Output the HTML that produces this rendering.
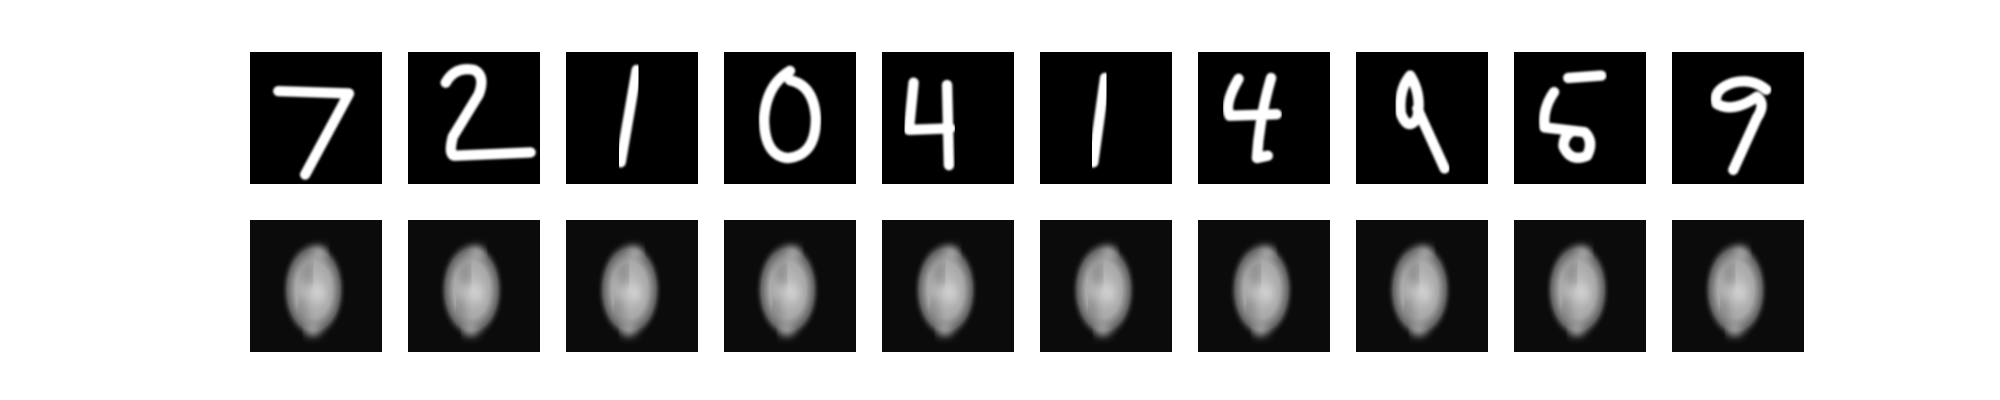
<!DOCTYPE html>
<html><head><meta charset="utf-8"><style>
html,body{margin:0;padding:0;background:#fff;width:2000px;height:400px;overflow:hidden}
</style></head><body>
<svg id="fig" width="2000" height="400" viewBox="0 0 2000 400" xmlns="http://www.w3.org/2000/svg">
<defs>
<filter id="blur" x="-20%" y="-20%" width="140%" height="140%"><feGaussianBlur stdDeviation="1.1"/></filter>
<filter id="soft" x="-10%" y="-10%" width="120%" height="120%"><feGaussianBlur stdDeviation="0.25"/></filter>
<radialGradient id="blob" cx="50%" cy="50%" r="50%">
<stop offset="0" stop-color="#c4c4c4"/><stop offset="0.55" stop-color="#a8a8a8"/><stop offset="0.8" stop-color="#606060"/><stop offset="1" stop-color="#0a0a0a" stop-opacity="0"/>
</radialGradient>
</defs>
</svg>
<script>
const labels = ['7','2','1','0','4','1','4','9','5','9'];
const paths = [
 'M6 8.3 L21 8.8 L11.7 26',
 'M8 6.5 Q10 3 14 3.8 Q16.5 5 15 9 L9.5 18 Q8.5 22 10 22 L26 21.3',
 'M15 3.8 L11.6 23.4',
 'M14 4 Q9 7 8.5 14 Q8.5 22 13.5 22.5 Q19.5 22 19.5 14 Q19 7 14 6',
 'M6.7 6.5 L5.7 16.5 L14.5 16.2 M13.8 7 L14.2 24',
 'M13.8 5.5 L11.3 23.4',
 'M8.6 5.7 Q5.5 11 6.7 13.5 L16.7 13.2 M15.5 5.5 Q13 14 12.5 22.5 L14.8 22',
 'M11.5 5 Q9 8 9.5 13 Q11 17 13 14 Q14 9 11.5 5 M13 12 L18.8 24.7',
 'M11.5 5.5 L18.5 5 M8.5 8.5 Q6 12 6.5 16 L15 17 Q17 19 15.5 22 Q12 23.5 10.5 20 Q10.5 18 12 17',
 'M20 8 Q17 5.5 13 6.5 Q8.5 8 9.5 11 Q13 13 18 9.5 Q20 11 18 14 L13 25'
];
const svgNS='http://www.w3.org/2000/svg';
const fig=document.getElementById('fig');
const S=132/28;
labels.forEach((d,i)=>{
  const x0=250+i*158;
  const g=document.createElementNS(svgNS,'g');
  
  
  g.setAttribute('transform','translate('+x0+',52) scale('+S+')');
  const r=document.createElementNS(svgNS,'rect');
  r.setAttribute('width','28');r.setAttribute('height','28');r.setAttribute('fill','#000');
  g.appendChild(r);
  const p=document.createElementNS(svgNS,'path');
  p.setAttribute('d',paths[i]);p.setAttribute('fill','none');p.setAttribute('stroke','#fff');
  p.setAttribute('stroke-width','2.2');p.setAttribute('stroke-linecap','round');p.setAttribute('stroke-linejoin','round');
  p.setAttribute('filter','url(#soft)');
  g.appendChild(p);
  fig.appendChild(g);
  const g2=document.createElementNS(svgNS,'g');
  
  
  g2.setAttribute('transform','translate('+x0+',220) scale('+S+')');
  const r2=document.createElementNS(svgNS,'rect');
  r2.setAttribute('width','28');r2.setAttribute('height','28');r2.setAttribute('fill','#0b0b0b');
  g2.appendChild(r2);
  const e=document.createElementNS(svgNS,'ellipse');
  e.setAttribute('cx','13.5');e.setAttribute('cy','14.8');e.setAttribute('rx','7');e.setAttribute('ry','10.8');
  e.setAttribute('fill','url(#blob)');
  g2.appendChild(e);
  const inner=document.createElementNS(svgNS,'path');
  inner.setAttribute('d','M13 9 Q11 11.5 13 13.5 M11 17 Q10 19 12 21');
  inner.setAttribute('fill','none');inner.setAttribute('stroke','#7a7a7a');inner.setAttribute('stroke-width','1.4');
  inner.setAttribute('filter','url(#blur)');
  g2.appendChild(inner);
  const hi=document.createElementNS(svgNS,'path');
  hi.setAttribute('d','M13.5 6.5 L16 7 M14.5 14 L14.8 17 M12 23.5 L14.5 23.5');
  hi.setAttribute('fill','none');hi.setAttribute('stroke','#e4e4e4');hi.setAttribute('stroke-width','1.4');
  hi.setAttribute('filter','url(#blur)');
  g2.appendChild(hi);
  fig.appendChild(g2);
});
</script>
</body></html>
